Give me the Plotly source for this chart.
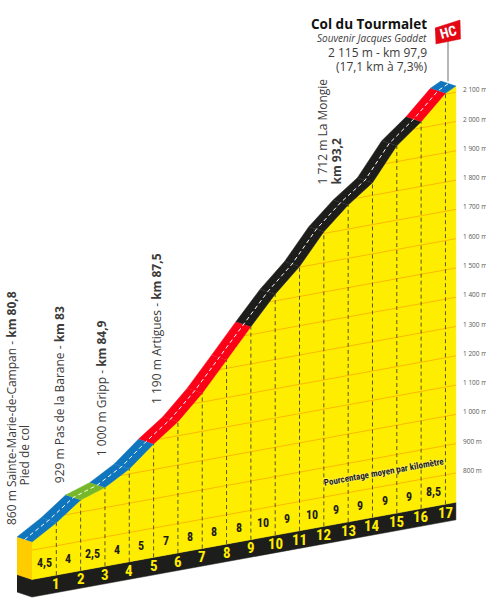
import numpy as np
import plotly.graph_objects as go

# km along the climb, last entry is the summit as drawn
km = [0, 1, 2, 3, 4, 5, 6, 7, 8, 9, 10, 11, 12, 13, 14, 15, 16, 17, 17.43]
# altitude of the road as drawn on the profile (m)
alt = [828, 879, 941, 969, 1017, 1087, 1148, 1230, 1328, 1427, 1523, 1602, 1706, 1782, 1843, 1954, 2021, 2103, 2121]
grades = ["4,5", "4", "2,5", "4", "5", "7", "8", "8", "8", "10", "9", "10", "9", "9", "9", "9", "8,5"]
road_colors = ["blue", "blue", "green", "blue", "blue", "red", "red", "red", "red", "black", "black", "black",
               "black", "black", "black", "black", "red", "blue"]
km_labels = list(range(1, 18))
grid_alts = list(range(800, 2200, 100))
axis_labels = ["800 m", "900 m", "1 000 m", "1 100 m", "1 200 m", "1 300 m", "1 400 m", "1 500 m", "1 600 m",
               "1 700 m", "1 800 m", "1 900 m", "2 000 m", "2 100 m"]

PALETTE = dict(blue="#0f75bc", green="#76b82a", red="#fb0016", black="#1d1d1b")
YELLOW = "#ffed00"
SIDE = "#ffcc00"
GRID = "#fbb900"
FONT = "Open Sans"
NARROW = "Roboto Condensed, DejaVu Sans Condensed, Roboto, sans-serif"

WIDTH, HEIGHT = 486, 600
KM_PX = 24.32
M_PX = 0.2929
TILT = 15.12  # the whole profile is sheared, metres of lift per km
BASE = 700
BASE_BOTTOM = 640
DEPTH_KM = 0.617  # road width in the oblique view
DEPTH_M = 17


def lift(k, a):
    return np.asarray(a, dtype=float) + TILT * np.asarray(k, dtype=float)


def px(x, y):
    return x / WIDTH, 1 - y / HEIGHT


km_arr = np.array(km, dtype=float)
alt_arr = np.array(alt, dtype=float)
end = km_arr[-1]

fig = go.Figure()


def poly(xs, ys, color):
    fig.add_trace(go.Scatter(x=xs, y=ys, mode="lines", fill="toself", fillcolor=color,
                             line=dict(color=color, width=0.5), hoverinfo="skip", showlegend=False))


# plinth
poly([-DEPTH_KM, 0, end, end, 0, -DEPTH_KM],
     [lift(0, BASE) + DEPTH_M, lift(0, BASE), lift(end, BASE), lift(end, BASE_BOTTOM), lift(0, BASE_BOTTOM),
      lift(0, BASE_BOTTOM) + DEPTH_M],
     PALETTE["black"])
# left side of the profile
poly([-DEPTH_KM, 0, 0, -DEPTH_KM],
     [lift(0, alt[0]) + DEPTH_M, lift(0, alt[0]), lift(0, BASE), lift(0, BASE) + DEPTH_M],
     SIDE)
# front face
poly(list(km) + [end, 0], list(lift(km_arr, alt_arr)) + [lift(end, BASE), lift(0, BASE)], YELLOW)

# altitude lines, only under the road
for a in grid_alts:
    start = np.interp(a, alt_arr, km_arr) if a > alt[0] else 0
    fig.add_trace(go.Scatter(x=[start, end], y=[lift(start, a), lift(end, a)], mode="lines",
                             line=dict(color=GRID, width=1), hoverinfo="skip", showlegend=False))

# km lines
for k in km_labels:
    fig.add_trace(go.Scatter(x=[k, k], y=[lift(k, BASE), lift(k, alt[k])], mode="lines",
                             line=dict(color="#55551f", width=1, dash="4px,3px"), hoverinfo="skip", showlegend=False))

# road
for i, c in enumerate(road_colors):
    k0, k1 = km[i], km[i + 1]
    y0, y1 = lift(k0, alt[i]), lift(k1, alt[i + 1])
    poly([k0, k1, k1 - DEPTH_KM, k0 - DEPTH_KM], [y0, y1, y1 + DEPTH_M, y0 + DEPTH_M], PALETTE[c])

fig.add_trace(go.Scatter(x=km_arr - DEPTH_KM / 2, y=lift(km_arr, alt_arr) + DEPTH_M / 2, mode="lines",
                         line=dict(color="white", width=1, dash="4px,3px"), hoverinfo="skip", showlegend=False))

# grades on the face, km numbers on the plinth
for i, g in enumerate(grades):
    fig.add_annotation(x=km[i] + 0.5, y=lift(km[i] + 0.5, 748), text=f"<b>{g}</b>", showarrow=False,
                       font=dict(family=NARROW, size=12, color="#1d1d1b"))
for k in km_labels:
    fig.add_annotation(x=k, y=lift(k, 670), text=f"<b>{k}</b>", showarrow=False,
                       font=dict(family=NARROW, size=15, color=YELLOW))

fig.add_annotation(x=14.47, y=lift(14.47, 848), text="<b>Pourcentage moyen par kilomètre</b>", showarrow=False,
                   textangle=-10.3, font=dict(family=NARROW, size=9, color="#1d1d1b", shadow="0 0 2px white"))

# climb labels, standing on the road
vlabels = [
    (0, "860 m Sainte-Marie-de-Campan - <b>km 80,8</b>", -21, 15),
    (0, "Pied de col", -8, 54),
    (2, "929 m Pas de la Barane - <b>km 83</b>", -21, 15),
    (4, "1 000 m Gripp - <b>km 84,9</b>", -27, 11),
    (7, "1 190 m Artigues - <b>km 87,5</b>", -45, -13),
    (12, "1 712 m La Mongie", -1, 45),
    (12, "<b>km 93,2</b>", 13, 45),
]
for k, txt, dx, dy in vlabels:
    fig.add_annotation(x=k, y=lift(k, alt[k]), text=txt, showarrow=False, textangle=-90, yanchor="bottom",
                       xshift=dx, yshift=dy, font=dict(family=FONT, size=12, color="#3c3c3b"))

# summit block
head = [
    ("<b>Col du Tourmalet</b>", 13, 13.5, "#111111"),
    ("<i>Souvenir Jacques Goddet</i>", 28.5, 10, "#3c3c3b"),
    ("2 115 m - km 97,9", 42, 12, "#3c3c3b"),
    ("(17,1 km à 7,3%)", 56, 12, "#3c3c3b"),
]
for txt, y, size, col in head:
    xp, yp = px(429, y)
    fig.add_annotation(x=xp, y=yp, xref="paper", yref="paper", text=txt, showarrow=False, xanchor="right",
                       font=dict(family=FONT, size=size, color=col))

# HC flag, hung from the summit
FLAG_X = (448 - 32) / KM_PX
summit_y = float(lift(end, alt[-1]))
fig.add_trace(go.Scatter(x=[FLAG_X, FLAG_X], y=[summit_y + 16, summit_y + 170], mode="lines",
                         line=dict(color="#706f6f", width=1), hoverinfo="skip", showlegend=False))
poly([(435 - 32) / KM_PX, (460 - 32) / KM_PX, (460.5 - 32) / KM_PX, (435.7 - 32) / KM_PX],
     [800 + (550.2 - 28) / M_PX, 800 + (550.2 - 20) / M_PX, 800 + (550.2 - 39) / M_PX, 800 + (550.2 - 44) / M_PX],
     "#e30613")
fig.add_annotation(x=FLAG_X, y=800 + (550.2 - 32) / M_PX, text="<b>HC</b>", showarrow=False, textangle=-15,
                   font=dict(family=NARROW, size=14, color="#ffffff"))

fig.update_layout(
    width=WIDTH,
    height=HEIGHT,
    autosize=False,
    margin=dict(l=0, r=0, t=0, b=0, pad=0),
    paper_bgcolor="white",
    plot_bgcolor="white",
    showlegend=False,
    xaxis=dict(range=[-32 / KM_PX, (WIDTH - 32) / KM_PX], visible=False, fixedrange=True, domain=[0, 1]),
    yaxis=dict(range=[800 - 49.8 / M_PX, 800 + 550.2 / M_PX], showgrid=False, zeroline=False,
               showline=False, fixedrange=True, visible=False),
)

# altitude scale on the right
for a, t in zip(grid_alts, axis_labels):
    fig.add_annotation(x=(460.5 - 32) / KM_PX, y=lift(end, a) + 8.5, text=t, showarrow=False, xanchor="left",
                       font=dict(family=FONT, size=6.5, color="#575756"))

fig.write_html("out.html", config=dict(displayModeBar=False), post_script="document.body.style.margin='0';")
